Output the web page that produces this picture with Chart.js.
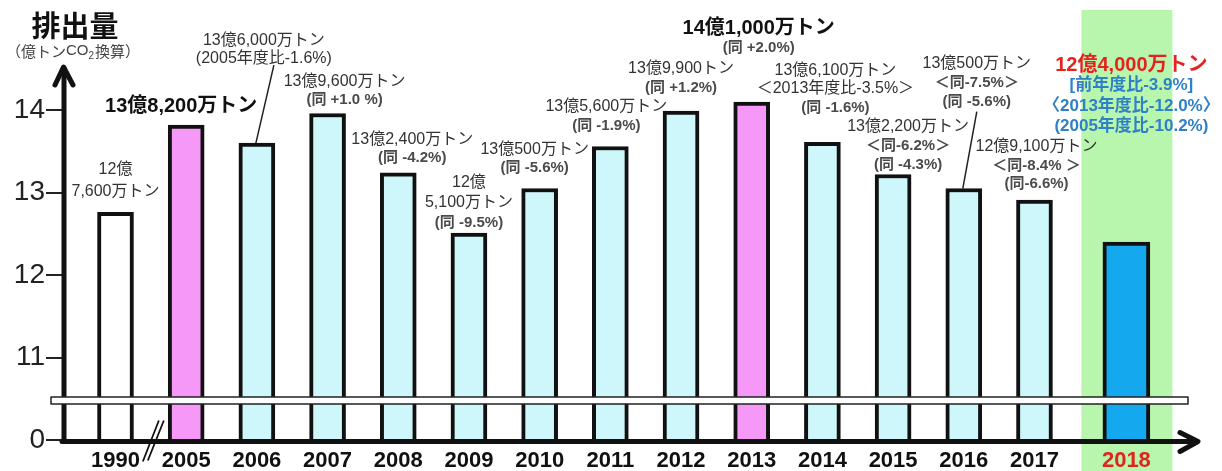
<!DOCTYPE html>
<html>
<head>
<meta charset="utf-8">
<title>排出量</title>
<script src="https://cdn.jsdelivr.net/npm/chart.js@4.4.1/dist/chart.umd.min.js"></script>
<style>
  html, body { margin: 0; padding: 0; background: #fff; }
  #wrap { width: 1222px; height: 471px; }
</style>
</head>
<body>
<div id="wrap"><canvas id="grafico"></canvas></div>
<script>
// 年度
const anios = ['1990', '2005', '2006', '2007', '2008', '2009', '2010', '2011', '2012', '2013', '2014', '2015', '2016', '2017', '2018'];

// 排出量 (億トンCO2換算)
const emisiones = [12.76, 13.82, 13.60, 13.96, 13.24, 12.51, 13.05, 13.56, 13.99, 14.10, 13.61, 13.22, 13.05, 12.91, 12.40];

// 縦軸の目盛り (0 と 11 の間は省略)
const ticksY = [0, 11, 12, 13, 14];

// 棒の上の注記
const notas = [
  ['12億', '7,600万トン'],
  ['13億8,200万トン'],
  ['13億6,000万トン', '(2005年度比-1.6%)'],
  ['13億9,600万トン', '(同 +1.0 %)'],
  ['13億2,400万トン', '(同 -4.2%)'],
  ['12億', '5,100万トン', '(同 -9.5%)'],
  ['13億500万トン', '(同 -5.6%)'],
  ['13億5,600万トン', '(同 -1.9%)'],
  ['13億9,900トン', '(同 +1.2%)'],
  ['14億1,000万トン', '(同 +2.0%)'],
  ['13億6,100万トン', '＜2013年度比-3.5%＞', '(同 -1.6%)'],
  ['13億2,200万トン', '＜同-6.2%＞', '(同 -4.3%)'],
  ['13億500万トン', '＜同-7.5%＞', '(同 -5.6%)'],
  ['12億9,100万トン', '＜同-8.4% ＞', '(同-6.6%)'],
  ['12億4,000万トン', '[前年度比-3.9%]', '〈2013年度比-12.0%〉', '(2005年度比-10.2%)']
];

// 注記の置き方 (棒の中心からのずれ, 棒の上端から最後の行までの距離, 行間)
const notaPos = [
  { dx: 0, dy: 21, lh: 22 },
  { dx: -5, dy: 19, lh: 20 },
  { dx: 7, dy: 85, lh: 18, guia: [17, -78] },
  { dx: 17, dy: 14, lh: 18 },
  { dx: 14, dy: 15, lh: 18 },
  { dx: 0, dy: 10, lh: 20 },
  { dx: -5, dy: 21, lh: 18 },
  { dx: -4, dy: 21, lh: 19 },
  { dx: 0, dy: 23, lh: 19 },
  { dx: 7, dy: 54, lh: 19 },
  { dx: 13, dy: 35, lh: 18.5 },
  { dx: 15, dy: 10, lh: 19 },
  { dx: 13, dy: 87, lh: 19, guia: [13, -77] },
  { dx: 2, dy: 16, lh: 18.5 },
  { dx: 5, dy: 116, lh: 20.3 }
];

const BASE = 10;       // 省略部分 (0〜10) を 1 目盛り分に縮める
function aEscala(v) {
  return v === 0 ? 0 : v - BASE;
}

// 2018 は少し離して置く
const posiciones = anios.map(function (a, i) {
  return a === '2018' ? i + 0.3 : i;
});

const FUENTE = '"Liberation Sans", "Noto Sans CJK JP", sans-serif';

function colorBarra(anio) {
  if (anio === '1990') return '#ffffff';
  if (anio === '2005' || anio === '2013') return '#f598f8';
  if (anio === '2018') return '#14a9ee';
  return '#cdf7fa';
}

function puntos(desde, hasta) {
  const out = [];
  for (let i = desde; i < hasta; i++) {
    out.push({ x: posiciones[i], y: aEscala(emisiones[i]) });
  }
  return out;
}

function estiloLinea(i, k) {
  if (i === 14) {
    if (k === 0) return { font: 'bold 20px ' + FUENTE, color: '#e5231e' };
    return { font: 'bold 17px ' + FUENTE, color: '#2f80c6' };
  }
  if ((i === 1 || i === 9) && k === 0) return { font: 'bold 20px ' + FUENTE, color: '#111' };
  const t = notas[i][k];
  if (t.indexOf('＜同') === 0 || t.indexOf('(同') === 0) return { font: 'bold 15px ' + FUENTE, color: '#4a4a4a' };
  return { font: '16px ' + FUENTE, color: '#333' };
}

const extras = {
  id: 'extras',
  beforeDraw(chart) {
    const ctx = chart.ctx;
    const x = chart.scales.x;
    const cx = x.getPixelForValue(posiciones[14]);
    ctx.save();
    ctx.fillStyle = '#b8f6ae';
    ctx.fillRect(cx - 45, 10, 91, chart.height - 10);
    ctx.restore();
  },
  afterDatasetsDraw(chart) {
    const ctx = chart.ctx;
    const area = chart.chartArea;
    const x = chart.scales.x;
    const y = chart.scales.y;
    const y0 = y.getPixelForValue(0) + 1.5;

    ctx.save();
    ctx.strokeStyle = '#111';
    ctx.lineWidth = 5;
    ctx.lineCap = 'round';
    ctx.lineJoin = 'round';

    // 縦軸と矢印
    ctx.beginPath();
    ctx.moveTo(area.left, y0);
    ctx.lineTo(area.left, area.top - 1);
    ctx.stroke();
    ctx.beginPath();
    ctx.moveTo(area.left - 9, area.top + 16);
    ctx.lineTo(area.left - 0.5, area.top - 2);
    ctx.lineTo(area.left + 9, area.top + 16);
    ctx.stroke();

    // 横軸と矢印
    ctx.beginPath();
    ctx.moveTo(area.left - 2, y0);
    ctx.lineTo(area.right + 6, y0);
    ctx.stroke();
    ctx.beginPath();
    ctx.moveTo(area.right - 10, y0 - 9);
    ctx.lineTo(area.right + 8, y0);
    ctx.lineTo(area.right - 10, y0 + 10);
    ctx.stroke();

    // 省略記号 //
    const xm = x.getPixelForValue(0.5);
    ctx.lineWidth = 1.8;
    ctx.lineCap = 'butt';
    ctx.beginPath();
    ctx.moveTo(xm - 8, y0 + 20);
    ctx.lineTo(xm + 8, y0 - 21);
    ctx.moveTo(xm - 3, y0 + 19);
    ctx.lineTo(xm + 13, y0 - 21);
    ctx.stroke();

    // 省略帯
    const yb = y.getPixelForValue(0.48);
    ctx.fillStyle = '#fff';
    ctx.fillRect(area.left - 13, yb - 3.5, area.right - area.left + 11, 7);
    ctx.lineWidth = 1.5;
    ctx.strokeStyle = '#222';
    ctx.strokeRect(area.left - 13, yb - 3.5, area.right - area.left + 11, 7);

    // 注記
    ctx.textAlign = 'center';
    ctx.textBaseline = 'middle';
    notas.forEach(function (lineas, i) {
      const p = notaPos[i];
      const bx = x.getPixelForValue(posiciones[i]);
      const top = y.getPixelForValue(aEscala(emisiones[i]));
      const cx = bx + p.dx;
      const ultimo = top - p.dy;
      lineas.forEach(function (t, k) {
        const st = estiloLinea(i, k);
        ctx.font = st.font;
        ctx.fillStyle = st.color;
        ctx.fillText(t, cx, ultimo - (lineas.length - 1 - k) * p.lh);
      });
      if (p.guia) {
        ctx.strokeStyle = '#222';
        ctx.lineWidth = 1.5;
        ctx.beginPath();
        ctx.moveTo(bx + p.guia[0], top + p.guia[1]);
        ctx.lineTo(bx - 1, top);
        ctx.stroke();
      }
    });
    ctx.restore();
  },
  afterDraw(chart) {
    const ctx = chart.ctx;
    ctx.save();
    ctx.fillStyle = '#111';
    ctx.textAlign = 'center';
    ctx.textBaseline = 'middle';
    ctx.font = 'bold 29px "Noto Sans CJK JP", sans-serif';
    ctx.fillText('排出量', 75, 26);

    // (億トンCO2換算)
    ctx.fillStyle = '#444';
    ctx.textAlign = 'left';
    let px = 6;
    ctx.font = '15px "Noto Sans CJK JP", sans-serif';
    ctx.fillText('（億トン', px, 51);
    px += ctx.measureText('（億トン').width;
    ctx.font = '15px "Liberation Sans", sans-serif';
    ctx.fillText('CO', px, 51);
    px += ctx.measureText('CO').width;
    ctx.font = '10px "Liberation Sans", sans-serif';
    ctx.fillText('2', px, 56);
    px += ctx.measureText('2').width + 1;
    ctx.font = '15px "Noto Sans CJK JP", sans-serif';
    ctx.fillText('換算）', px, 51);
    ctx.restore();
  }
};

function graficar() {
  const ctx = document.getElementById('grafico').getContext('2d');
  const colores = anios.map(colorBarra);

  new Chart(ctx, {
    type: 'bar',
    data: {
      datasets: [{
        label: '排出量',
        data: puntos(0, 14),
        backgroundColor: colores.slice(0, 14),
        borderColor: '#111',
        borderWidth: 4,
        barThickness: 36
      }, {
        label: '2018',
        data: puntos(14, 15),
        backgroundColor: colores.slice(14),
        borderColor: '#111',
        borderWidth: 4,
        barThickness: 47
      }]
    },
    options: {
      responsive: true,
      maintainAspectRatio: false,
      animation: false,
      grouped: false,
      layout: { padding: { top: 69, right: 32, bottom: 0, left: 0 } },
      plugins: {
        legend: { display: false },
        tooltip: { enabled: false }
      },
      scales: {
        x: {
          type: 'linear',
          min: -0.7285,
          max: 15.2,
          offset: false,
          grid: { display: false, drawTicks: false },
          border: { display: false },
          afterBuildTicks: function (scale) {
            scale.ticks = posiciones.map(function (v) { return { value: v }; });
          },
          afterFit: function (scale) { scale.height = 31; },
          ticks: {
            autoSkip: false,
            maxRotation: 0,
            padding: 8,
            font: { family: FUENTE, size: 22, weight: 'bold' },
            color: function (c) { return c.index === 14 ? '#e0251c' : '#111'; },
            callback: function (v, i) { return anios[i]; }
          }
        },
        y: {
          min: 0,
          max: 4.5,
          grid: {
            drawOnChartArea: false,
            drawTicks: true,
            tickLength: 18,
            color: '#222',
            lineWidth: 2
          },
          border: { display: false },
          afterBuildTicks: function (scale) {
            scale.ticks = ticksY.map(function (v) { return { value: aEscala(v) }; });
          },
          afterFit: function (scale) { scale.width = 64; },
          ticks: {
            padding: 1,
            font: { family: FUENTE, size: 28 },
            color: '#222',
            callback: function (v, i) { return String(ticksY[i]); }
          }
        }
      }
    },
    plugins: [extras]
  });
}

graficar();
</script>
</body>
</html>
